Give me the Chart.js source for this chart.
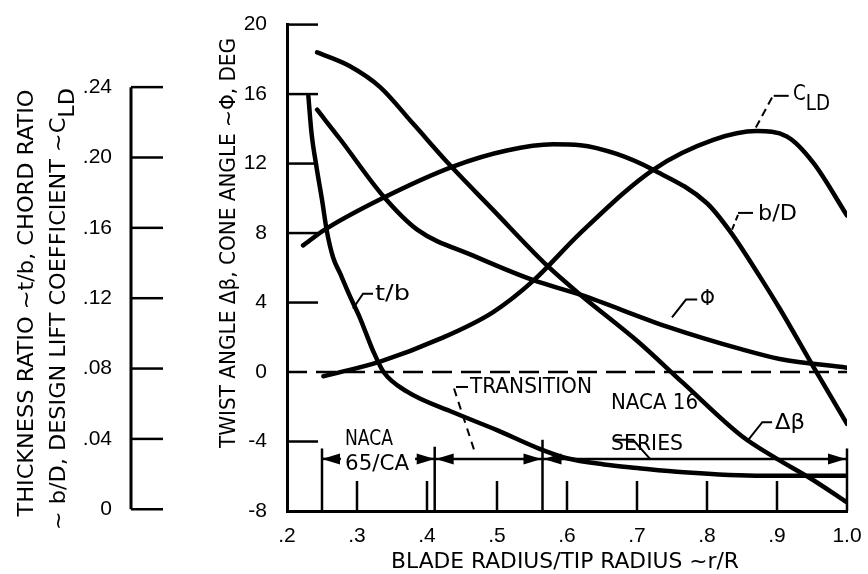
<!DOCTYPE html>
<html>
<head>
<meta charset="utf-8">
<script src="https://cdn.jsdelivr.net/npm/chart.js@4.4.0/dist/chart.umd.min.js"></script>
<style>
  html, body { margin: 0; padding: 0; background: #fff; }
</style>
</head>
<body>
<canvas id="bladeChart" width="868" height="574"></canvas>
<script>
// axis ticks
const xTicks = [0.2, 0.3, 0.4, 0.5, 0.6, 0.7, 0.8, 0.9, 1.0];
const degTicks = [-8, -4, 0, 4, 8, 12, 16, 20];
const ratioTicks = [0, 0.04, 0.08, 0.12, 0.16, 0.20, 0.24];

// twist angle, deg
const twistR   = [0.243, 0.29, 0.333, 0.38, 0.433, 0.494, 0.571, 0.619, 0.70, 0.765, 0.85, 0.90, 0.947, 1.0];
const twistDeg = [18.4, 17.6, 16.4, 14.3, 11.9, 9.35, 6.15, 4.45, 1.8, -0.6, -3.7, -5.0, -6.1, -7.5];

// cone angle, deg
const coneR   = [0.243, 0.276, 0.337, 0.386, 0.466, 0.551, 0.619, 0.744, 0.85, 0.904, 1.0];
const coneDeg = [15.1, 13.4, 10.15, 8.2, 6.7, 5.3, 4.45, 2.6, 1.3, 0.75, 0.25];

// thickness ratio t/b
const tbR   = [0.2305, 0.235, 0.242, 0.250, 0.257, 0.266, 0.276, 0.290, 0.304, 0.323, 0.338, 0.371, 0.438, 0.50, 0.56, 0.60, 0.653, 0.70, 0.767, 0.88, 1.0];
const tbVal = [0.235, 0.214, 0.195, 0.176, 0.158, 0.143, 0.134, 0.121, 0.109, 0.090, 0.078, 0.067, 0.055, 0.045, 0.0345, 0.029, 0.0255, 0.0235, 0.021, 0.019, 0.019];

// chord ratio b/D
const bdR   = [0.223, 0.254, 0.337, 0.438, 0.514, 0.58, 0.619, 0.671, 0.723, 0.80, 0.833, 0.876, 0.904, 0.952, 1.0];
const bdVal = [0.150, 0.159, 0.177, 0.195, 0.204, 0.2075, 0.207, 0.202, 0.193, 0.174, 0.158, 0.132, 0.114, 0.081, 0.0485];

// design lift coefficient
const cldR   = [0.252, 0.333, 0.419, 0.494, 0.552, 0.619, 0.723, 0.809, 0.871, 0.914, 0.952, 1.0];
const cldVal = [0.0756, 0.084, 0.097, 0.112, 0.130, 0.157, 0.193, 0.210, 0.215, 0.212, 0.197, 0.167];

// airfoil section bounds (r/R) and where the left ratio scale sits on the degree scale
const sectionBounds = [0.25, 0.411, 0.565, 1.0];
const RATIO_ZERO_DEG = -7.9;
const RATIO_TOP_DEG = 16.4;

const LABEL_FONT = "'Liberation Sans Narrow', 'DejaVu Sans Condensed', 'Liberation Sans', sans-serif";
const TICK_FONT = "'Liberation Sans', Arial, sans-serif";

const k = 0.24 / (RATIO_TOP_DEG - RATIO_ZERO_DEG);
const ratioMin = (-8 - RATIO_ZERO_DEG) * k;
const ratioMax = (20 - RATIO_ZERO_DEG) * k;

function pairs(xs, ys) {
    return xs.map((x, i) => ({ x: x, y: ys[i] }));
}

function curve(label, xs, ys, axis) {
    return {
        label: label,
        data: pairs(xs, ys),
        yAxisID: axis,
        borderColor: '#000',
        borderWidth: 4.5,
        pointRadius: 0,
        fill: false,
        cubicInterpolationMode: 'monotone',
        borderCapStyle: 'round',
        borderJoinStyle: 'round'
    };
}

// text squeezed to a given width, x/y in pixels
function drawText(ctx, parts, x, y, size, width, align, rot) {
    if (typeof parts === 'string') parts = [{ t: parts }];
    ctx.save();
    ctx.translate(x, y);
    if (rot) ctx.rotate(rot);
    ctx.font = size + 'px ' + LABEL_FONT;
    const total = parts.reduce((s, p) => s + ctx.measureText(p.t).width, 0);
    const sx = width ? width / total : 1;
    ctx.scale(sx, 1);
    ctx.fillStyle = '#000';
    ctx.textBaseline = 'middle';
    ctx.textAlign = 'left';
    let cx = align === 'center' ? -total / 2 : 0;
    parts.forEach(p => {
        ctx.fillText(p.t, cx, p.sub ? size * 0.42 : 0);
        cx += ctx.measureText(p.t).width;
    });
    ctx.restore();
}

function line(ctx, pts, w, dash) {
    ctx.save();
    ctx.lineWidth = w;
    ctx.strokeStyle = '#000';
    ctx.setLineDash(dash || []);
    ctx.beginPath();
    pts.forEach((p, i) => i ? ctx.lineTo(p[0], p[1]) : ctx.moveTo(p[0], p[1]));
    ctx.stroke();
    ctx.restore();
}

function head(ctx, x, y, dir) {
    ctx.beginPath();
    ctx.moveTo(x, y);
    ctx.lineTo(x - dir * 18, y - 5.5);
    ctx.lineTo(x - dir * 18, y + 5.5);
    ctx.closePath();
    ctx.fill();
}

const decorations = {
    id: 'decorations',
    afterDraw(chart) {
        const ctx = chart.ctx;
        const X = v => chart.scales.x.getPixelForValue(v);
        const Y = v => chart.scales.y.getPixelForValue(v);
        const yL = chart.scales.yL;
        const left = chart.chartArea.left, bottom = chart.chartArea.bottom;

        // left ratio axis: line and inward ticks
        const lx = yL.right;
        line(ctx, [[lx, yL.getPixelForValue(0)], [lx, yL.getPixelForValue(0.24)]], 3);
        ratioTicks.forEach(v => {
            const p = yL.getPixelForValue(v);
            line(ctx, [[lx, p], [lx + 32, p]], 2.5);
        });

        // inward ticks on the degree axis and the r/R axis
        degTicks.filter(v => v !== -8 && v !== 0).forEach(v => {
            line(ctx, [[left, Y(v)], [left + 31, Y(v)]], 2.5);
        });
        xTicks.filter(v => v > 0.2 && v < 1).forEach(v => {
            line(ctx, [[X(v), bottom], [X(v), bottom - 30]], 2.5);
        });

        // zero line
        line(ctx, [[left, Y(0)], [chart.chartArea.right, Y(0)]], 2.5, [20, 9]);

        // section brackets
        const tops = [-4.4, -4.3, -3.9, -4.4];
        sectionBounds.forEach((r, i) => line(ctx, [[X(r), Y(tops[i])], [X(r), bottom]], 2.5));
        const ay = Y(-5.0);
        ctx.fillStyle = '#000';
        line(ctx, [[X(0.277), ay], [X(0.25), ay]], 2.5);
        head(ctx, X(0.25), ay, -1);
        line(ctx, [[X(0.383), ay], [X(0.411), ay]], 2.5);
        head(ctx, X(0.411), ay, 1);
        line(ctx, [[X(0.411), ay], [X(0.565), ay]], 2.5);
        head(ctx, X(0.411) + 1, ay, -1);
        head(ctx, X(0.565) - 1, ay, 1);
        line(ctx, [[X(0.565), ay], [X(1.0), ay]], 2.5);
        head(ctx, X(0.565) + 1, ay, -1);
        head(ctx, X(1.0) - 1, ay, 1);

        // labels and leaders
        const S = 21;
        drawText(ctx, 'NACA', X(0.3171), Y(-3.89), S, 48, 'center');
        drawText(ctx, '65/CA', X(0.3286), Y(-5.31), S, 64, 'center');
        drawText(ctx, 'TRANSITION', X(0.4614), Y(-0.91), S, 122);
        line(ctx, [[X(0.4586), Y(-0.86)], [X(0.4414), Y(-0.86)]], 2);
        line(ctx, [[X(0.4386), Y(-0.95)], [X(0.467), Y(-4.45)]], 2, [8, 6]);
        drawText(ctx, 'NACA 16', X(0.6629), Y(-1.83), S, 87);
        drawText(ctx, 'SERIES', X(0.6629), Y(-4.17), S, 72);
        line(ctx, [[X(0.6686), Y(-3.9)], [X(0.6943), Y(-3.9)], [X(0.7186), Y(-5.0)]], 2);

        drawText(ctx, 't/b', X(0.3257), Y(4.46), S, 35);
        line(ctx, [[X(0.3229), Y(4.51)], [X(0.3086), Y(4.51)], [X(0.2943), Y(3.66)]], 2);
        drawText(ctx, 'b/D', X(0.8729), Y(9.09), S, 39);
        line(ctx, [[X(0.8657), Y(9.16)], [X(0.8443), Y(9.16)]], 2);
        line(ctx, [[X(0.8443), Y(9.05)], [X(0.8353), Y(8.15)]], 2, [6, 4]);
        drawText(ctx, [{ t: 'C' }, { t: 'LD', sub: true }], X(0.9229), Y(15.96), 22, 37);
        line(ctx, [[X(0.9167), Y(15.9)], [X(0.8953), Y(15.9)]], 2);
        line(ctx, [[X(0.8929), Y(15.8)], [X(0.8681), Y(13.95)]], 2, [8, 5]);
        drawText(ctx, '\u03A6', X(0.79), Y(4.17), S, 0);
        line(ctx, [[X(0.786), Y(4.17)], [X(0.770), Y(4.17)], [X(0.75), Y(3.14)]], 2);
        drawText(ctx, '\u0394\u03B2', X(0.897), Y(-2.97), S, 30);
        line(ctx, [[X(0.893), Y(-2.89)], [X(0.879), Y(-2.89)], [X(0.857), Y(-4.0)]], 2);

        // axis titles
        drawText(ctx, 'BLADE RADIUS/TIP RADIUS ~r/R', 565, 563, 21, 348, 'center');
        drawText(ctx, 'TWIST ANGLE \u0394\u03B2, CONE ANGLE ~\u03A6, DEG', 230, 243, 21, 410, 'center', -Math.PI / 2);
        drawText(ctx, 'THICKNESS RATIO ~t/b, CHORD RATIO', 28, 303, 21, 427, 'center', -Math.PI / 2);
        drawText(ctx, [{ t: '~ b/D, DESIGN LIFT COEFFICIENT ~C' }, { t: 'LD', sub: true }], 60, 309, 21, 442, 'center', -Math.PI / 2);
    }
};

new Chart(document.getElementById('bladeChart').getContext('2d'), {
    type: 'line',
    data: {
        datasets: [
            curve('\u0394\u03B2', twistR, twistDeg, 'y'),
            curve('\u03A6', coneR, coneDeg, 'y'),
            curve('t/b', tbR, tbVal, 'yL'),
            curve('b/D', bdR, bdVal, 'yL'),
            curve('CLD', cldR, cldVal, 'yL')
        ]
    },
    options: {
        responsive: false,
        animation: false,
        events: [],
        layout: { padding: { top: 21, right: 21, bottom: 0, left: 0 } },
        plugins: { legend: { display: false }, tooltip: { enabled: false } },
        scales: {
            x: {
                type: 'linear', position: 'bottom', min: 0.2, max: 1.0,
                afterBuildTicks: s => { s.ticks = xTicks.map(v => ({ value: v })); },
                afterFit: s => { s.height = 63; },
                grid: { display: false },
                border: { color: '#000', width: 3 },
                ticks: {
                    color: '#000', padding: 5, maxRotation: 0,
                    font: { family: TICK_FONT, size: 21 },
                    callback: v => v === 1 ? '1.0' : v.toFixed(1).replace(/^0/, '')
                }
            },
            y: {
                type: 'linear', position: 'left', min: -8, max: 20, weight: 0,
                afterBuildTicks: s => { s.ticks = degTicks.map(v => ({ value: v })); },
                afterFit: s => { s.width = 156; },
                grid: { display: false },
                border: { color: '#000', width: 3 },
                ticks: {
                    color: '#000', padding: 12,
                    font: { family: TICK_FONT, size: 21 },
                    callback: v => String(v)
                }
            },
            yL: {
                type: 'linear', position: 'left', min: ratioMin, max: ratioMax, weight: 1,
                afterBuildTicks: s => { s.ticks = ratioTicks.map(v => ({ value: v })); },
                afterFit: s => { s.width = 131; },
                grid: { display: false },
                border: { display: false },
                ticks: {
                    color: '#000', padding: 11,
                    font: { family: TICK_FONT, size: 21 },
                    callback: v => v === 0 ? '0' : v.toFixed(2).replace(/^0/, '')
                }
            }
        }
    },
    plugins: [decorations]
});
</script>
</body>
</html>
